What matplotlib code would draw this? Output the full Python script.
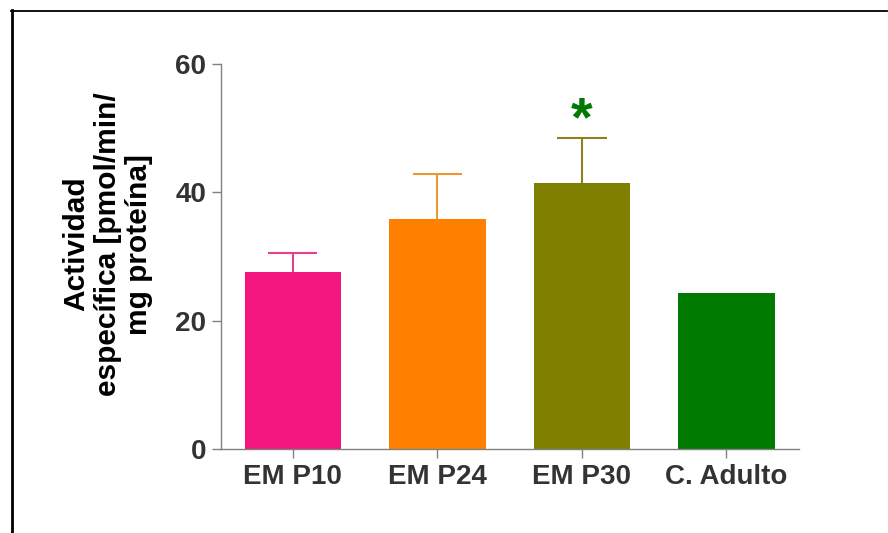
import matplotlib
matplotlib.use('Agg')
import matplotlib.pyplot as plt
from matplotlib.lines import Line2D

# data
grupos = ['EM P10', 'EM P24', 'EM P30', 'C. Adulto']
actividad = [27.6, 35.9, 41.5, 24.3]
error_sup = [2.9, 7.0, 7.0, 0.0]
colores = ['#F2167E', '#FF8000', '#808000', '#007A00']
color_err = ['#E8408C', '#E89A30', '#8C8020', '#007A00']

plt.rcParams['font.family'] = ['Liberation Sans', 'DejaVu Sans']
plt.rcParams['font.weight'] = 'bold'

fig = plt.figure(figsize=(8.88, 5.33), dpi=100)
ax = fig.add_axes([0.2485, 0.1576, 0.651, 0.7224])

x = list(range(len(grupos)))
ax.bar(x, actividad, width=0.67, color=colores, zorder=2)
# only the upper half of the error bar, as in the original
cap = 0.17
for i in x:
    if error_sup[i] > 0:
        top = actividad[i] + error_sup[i]
        ax.vlines(i, actividad[i], top, color=color_err[i], lw=1.5, zorder=1)
        ax.hlines(top, i - cap, i + cap, color=color_err[i], lw=1.5, zorder=1)

# significance mark over EM P30
ax.text(2, 51.0, '*', color='#007A00', fontsize=40, fontweight='bold',
        ha='center', va='center')

ax.set_xlim(-0.5, 3.5)
ax.set_ylim(0, 60)
ax.set_yticks([0, 20, 40, 60])
ax.set_xticks(x)
ax.set_xticklabels(grupos)
for s in ['top', 'right']:
    ax.spines[s].set_visible(False)
for s in ['left', 'bottom']:
    ax.spines[s].set_color('#808080')
    ax.spines[s].set_linewidth(1.0)
ax.tick_params(axis='both', colors='#808080', length=6.5, width=1.0,
               labelsize=20, labelcolor='#333333', pad=4)
for lab in ax.get_xticklabels() + ax.get_yticklabels():
    lab.set_fontweight('bold')

fig.text(0.1215, 0.542, 'Actividad\nespecífica [pmol/min/\nmg proteína]',
         rotation=90, ha='center', va='center', fontsize=21.5,
         fontweight='bold', color='black', linespacing=1.15, multialignment='center')

# frame lines from the original picture
fig.add_artist(Line2D([11/888, 887/888], [1-10.5/533, 1-10.5/533],
                      transform=fig.transFigure, color='black', lw=1.3))
fig.add_artist(Line2D([12/888, 12/888], [0, 1-10/533],
                      transform=fig.transFigure, color='black', lw=2.0))

fig.savefig('out.png', dpi=100)
